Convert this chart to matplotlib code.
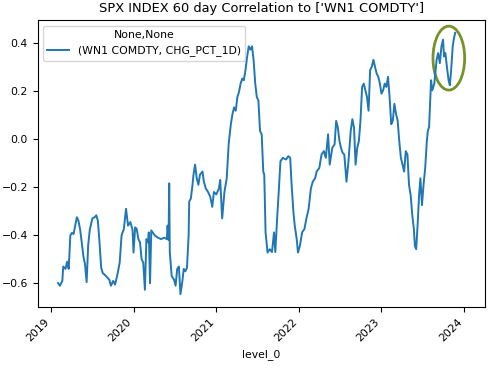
import pandas as pd
import matplotlib
matplotlib.use('Agg')
from matplotlib import pyplot as plt
from matplotlib import dates as mdates
from matplotlib.patches import Ellipse

# date as decimal year
years = [
    2019.086, 2019.109, 2019.138, 2019.149, 2019.176, 2019.196, 2019.215, 2019.235,
    2019.255, 2019.274, 2019.294, 2019.314, 2019.333, 2019.353, 2019.373, 2019.392,
    2019.412, 2019.432, 2019.451, 2019.471, 2019.502, 2019.529, 2019.549, 2019.568,
    2019.588, 2019.608, 2019.627, 2019.667, 2019.706, 2019.726, 2019.753, 2019.776,
    2019.804, 2019.832, 2019.855, 2019.882, 2019.909, 2019.933, 2019.961, 2019.988,
    2020.000, 2020.020, 2020.039, 2020.059, 2020.079, 2020.098, 2020.118, 2020.138,
    2020.156, 2020.176, 2020.185, 2020.200, 2020.215, 2020.255, 2020.294, 2020.333,
    2020.373, 2020.404, 2020.412, 2020.424, 2020.432, 2020.439, 2020.462, 2020.491,
    2020.509, 2020.529, 2020.549, 2020.568, 2020.588, 2020.608, 2020.627, 2020.647,
    2020.667, 2020.674, 2020.694, 2020.714, 2020.726, 2020.745, 2020.765, 2020.785,
    2020.804, 2020.835, 2020.851, 2020.874, 2020.902, 2020.929, 2020.953, 2020.973,
    2021.000, 2021.032, 2021.047, 2021.071, 2021.098, 2021.126, 2021.149, 2021.176,
    2021.196, 2021.215, 2021.235, 2021.255, 2021.274, 2021.294, 2021.314, 2021.333,
    2021.353, 2021.373, 2021.392, 2021.412, 2021.432, 2021.451, 2021.471, 2021.490,
    2021.509, 2021.529, 2021.549, 2021.568, 2021.580, 2021.596, 2021.620, 2021.647,
    2021.674, 2021.698, 2021.714, 2021.738, 2021.753, 2021.776, 2021.804, 2021.844,
    2021.871, 2021.894, 2021.909, 2021.933, 2021.949, 2021.973, 2021.988, 2022.012,
    2022.039, 2022.067, 2022.091, 2022.118, 2022.145, 2022.168, 2022.196, 2022.215,
    2022.247, 2022.274, 2022.302, 2022.326, 2022.353, 2022.373, 2022.404, 2022.432,
    2022.451, 2022.471, 2022.491, 2022.509, 2022.529, 2022.549, 2022.576, 2022.600,
    2022.627, 2022.647, 2022.667, 2022.686, 2022.706, 2022.726, 2022.745, 2022.765,
    2022.785, 2022.804, 2022.824, 2022.843, 2022.862, 2022.882, 2022.902, 2022.921,
    2022.941, 2022.961, 2022.980, 2023.000, 2023.020, 2023.039, 2023.059, 2023.079,
    2023.098, 2023.118, 2023.137, 2023.156, 2023.176, 2023.196, 2023.215, 2023.235,
    2023.255, 2023.274, 2023.294, 2023.314, 2023.333, 2023.353, 2023.373, 2023.392,
    2023.404, 2023.420, 2023.439, 2023.455, 2023.471, 2023.490, 2023.509, 2023.529,
    2023.549, 2023.561, 2023.576, 2023.588, 2023.600, 2023.615, 2023.639, 2023.667,
    2023.686, 2023.706, 2023.726, 2023.745, 2023.757, 2023.773, 2023.792, 2023.812,
    2023.827, 2023.843, 2023.862, 2023.874, 2023.891,
]

corr = [
    -0.599, -0.610, -0.590, -0.530, -0.540, -0.510, -0.540, -0.400,
    -0.390, -0.395, -0.360, -0.325, -0.340, -0.375, -0.430, -0.486,
    -0.520, -0.595, -0.440, -0.375, -0.330, -0.325, -0.317, -0.340,
    -0.430, -0.535, -0.557, -0.570, -0.585, -0.610, -0.590, -0.605,
    -0.565, -0.514, -0.400, -0.375, -0.290, -0.360, -0.345, -0.378,
    -0.472, -0.367, -0.374, -0.416, -0.430, -0.500, -0.514, -0.627,
    -0.416, -0.430, -0.388, -0.600, -0.380, -0.400, -0.410, -0.416,
    -0.410, -0.416, -0.360, -0.420, -0.184, -0.470, -0.570, -0.585,
    -0.610, -0.540, -0.530, -0.645, -0.600, -0.540, -0.550, -0.535,
    -0.400, -0.260, -0.247, -0.190, -0.148, -0.106, -0.163, -0.190,
    -0.148, -0.135, -0.177, -0.205, -0.220, -0.240, -0.282, -0.220,
    -0.230, -0.205, -0.170, -0.330, -0.220, -0.163, -0.022, 0.062,
    0.105, 0.132, 0.118, 0.175, 0.196, 0.231, 0.252, 0.245,
    0.287, 0.343, 0.386, 0.372, 0.386, 0.330, 0.231, 0.175,
    0.161, 0.034, 0.020, -0.135, -0.148, -0.388, -0.472, -0.458,
    -0.470, -0.388, -0.470, -0.317, -0.233, -0.092, -0.078, -0.085,
    -0.071, -0.078, -0.177, -0.303, -0.360, -0.416, -0.472, -0.444,
    -0.388, -0.374, -0.330, -0.290, -0.205, -0.177, -0.163, -0.135,
    -0.120, -0.064, -0.050, -0.078, 0.020, -0.106, -0.036, -0.022,
    0.076, 0.048, -0.008, -0.036, -0.057, -0.064, -0.177, -0.092,
    0.034, 0.083, 0.048, -0.106, -0.036, -0.008, 0.076, 0.217,
    0.231, 0.203, 0.175, 0.118, 0.287, 0.301, 0.330, 0.301,
    0.273, 0.259, 0.231, 0.189, 0.203, 0.231, 0.217, 0.259,
    0.175, 0.062, 0.076, 0.147, 0.105, 0.076, -0.008, -0.078,
    -0.106, -0.135, -0.050, -0.064, -0.190, -0.233, -0.317, -0.374,
    -0.444, -0.458, -0.345, -0.233, -0.163, -0.275, -0.190, -0.120,
    -0.008, 0.034, 0.050, 0.147, 0.245, 0.203, 0.230, 0.330,
    0.358, 0.316, 0.386, 0.414, 0.344, 0.358, 0.300, 0.245,
    0.224, 0.287, 0.386, 0.414, 0.442,
]

title = "SPX INDEX 60 day Correlation to ['WN1 COMDTY']"
series_label = '(WN1 COMDTY, CHG_PCT_1D)'
legend_title = 'None,None'
xlabel = 'level_0'


def to_date(y):
    start = pd.Timestamp(int(y), 1, 1)
    return start + pd.Timedelta(days=(y - int(y)) * 365.25)


dates = [to_date(y) for y in years]

fig = plt.figure(figsize=(5.0, 3.73), dpi=100)
ax = fig.add_axes([0.0754, 0.176, 0.8946, 0.770])

ax.plot(dates, corr, color='#1f77b4', lw=1.4, label=series_label)

# highlight ring round the latest readings
ring = Ellipse((mdates.date2num(to_date(2023.815)), 0.337),
               width=140, height=0.266, fill=False,
               edgecolor='#76922a', lw=2)
ax.add_patch(ring)

ax.xaxis.set_major_locator(mdates.YearLocator())
ax.xaxis.set_major_formatter(mdates.DateFormatter('%Y'))
ax.set_ylim(-0.70, 0.495)
for lab in ax.get_xticklabels():
    lab.set_rotation(45)
    lab.set_ha('right')
ax.tick_params(labelsize=7.8)
ax.set_title(title, fontsize=9.4)
ax.set_xlabel(xlabel, fontsize=7.8)
ax.legend(title=legend_title, loc='upper left', fontsize=7.8, title_fontsize=7.8)

fig.savefig('out.png', dpi=100)
